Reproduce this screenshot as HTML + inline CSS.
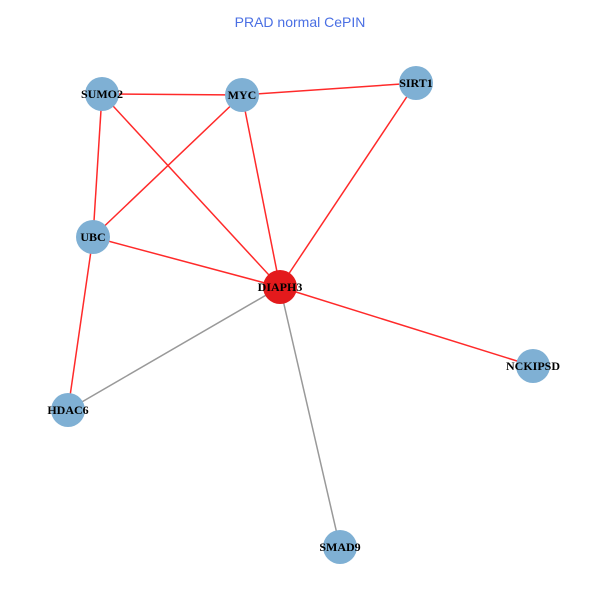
<!DOCTYPE html>
<html><head><meta charset="utf-8"><style>body{margin:0;background:#fff}</style></head><body>
<svg width="600" height="600" viewBox="0 0 600 600" xmlns="http://www.w3.org/2000/svg">
<rect width="600" height="600" fill="#fff"/>
<text x="300" y="27" text-anchor="middle" font-family="Liberation Sans, sans-serif" font-size="14" fill="#4a6fe3">PRAD normal CePIN</text>
<g stroke="#ff2a2a" stroke-width="1.5">
<line x1="102" y1="94" x2="242" y2="95"/>
<line x1="242" y1="95" x2="416" y2="83"/>
<line x1="102" y1="94" x2="93" y2="237"/>
<line x1="102" y1="94" x2="280" y2="287"/>
<line x1="242" y1="95" x2="93" y2="237"/>
<line x1="242" y1="95" x2="280" y2="287"/>
<line x1="416" y1="83" x2="280" y2="287"/>
<line x1="93" y1="237" x2="280" y2="287"/>
<line x1="93" y1="237" x2="68" y2="410"/>
<line x1="280" y1="287" x2="533" y2="366"/>
</g>
<g stroke="#999" stroke-width="1.5">
<line x1="280" y1="287" x2="68" y2="410"/>
<line x1="280" y1="287" x2="340" y2="547"/>
</g>
<g fill="#7fb0d4">
<circle cx="102" cy="94" r="17"/>
<circle cx="242" cy="95" r="17"/>
<circle cx="416" cy="83" r="17"/>
<circle cx="93" cy="237" r="17"/>
<circle cx="533" cy="366" r="17"/>
<circle cx="68" cy="410" r="17"/>
<circle cx="340" cy="547" r="17"/>
</g>
<circle cx="280" cy="287" r="17" fill="#e31a1c"/>
<g font-family="Liberation Serif, serif" font-size="12" font-weight="bold" text-anchor="middle" fill="#000">
<text x="102" y="98">SUMO2</text>
<text x="242" y="99">MYC</text>
<text x="416" y="87">SIRT1</text>
<text x="93" y="241">UBC</text>
<text x="280" y="291">DIAPH3</text>
<text x="533" y="370">NCKIPSD</text>
<text x="68" y="414">HDAC6</text>
<text x="340" y="551">SMAD9</text>
</g>
</svg>
</body></html>
